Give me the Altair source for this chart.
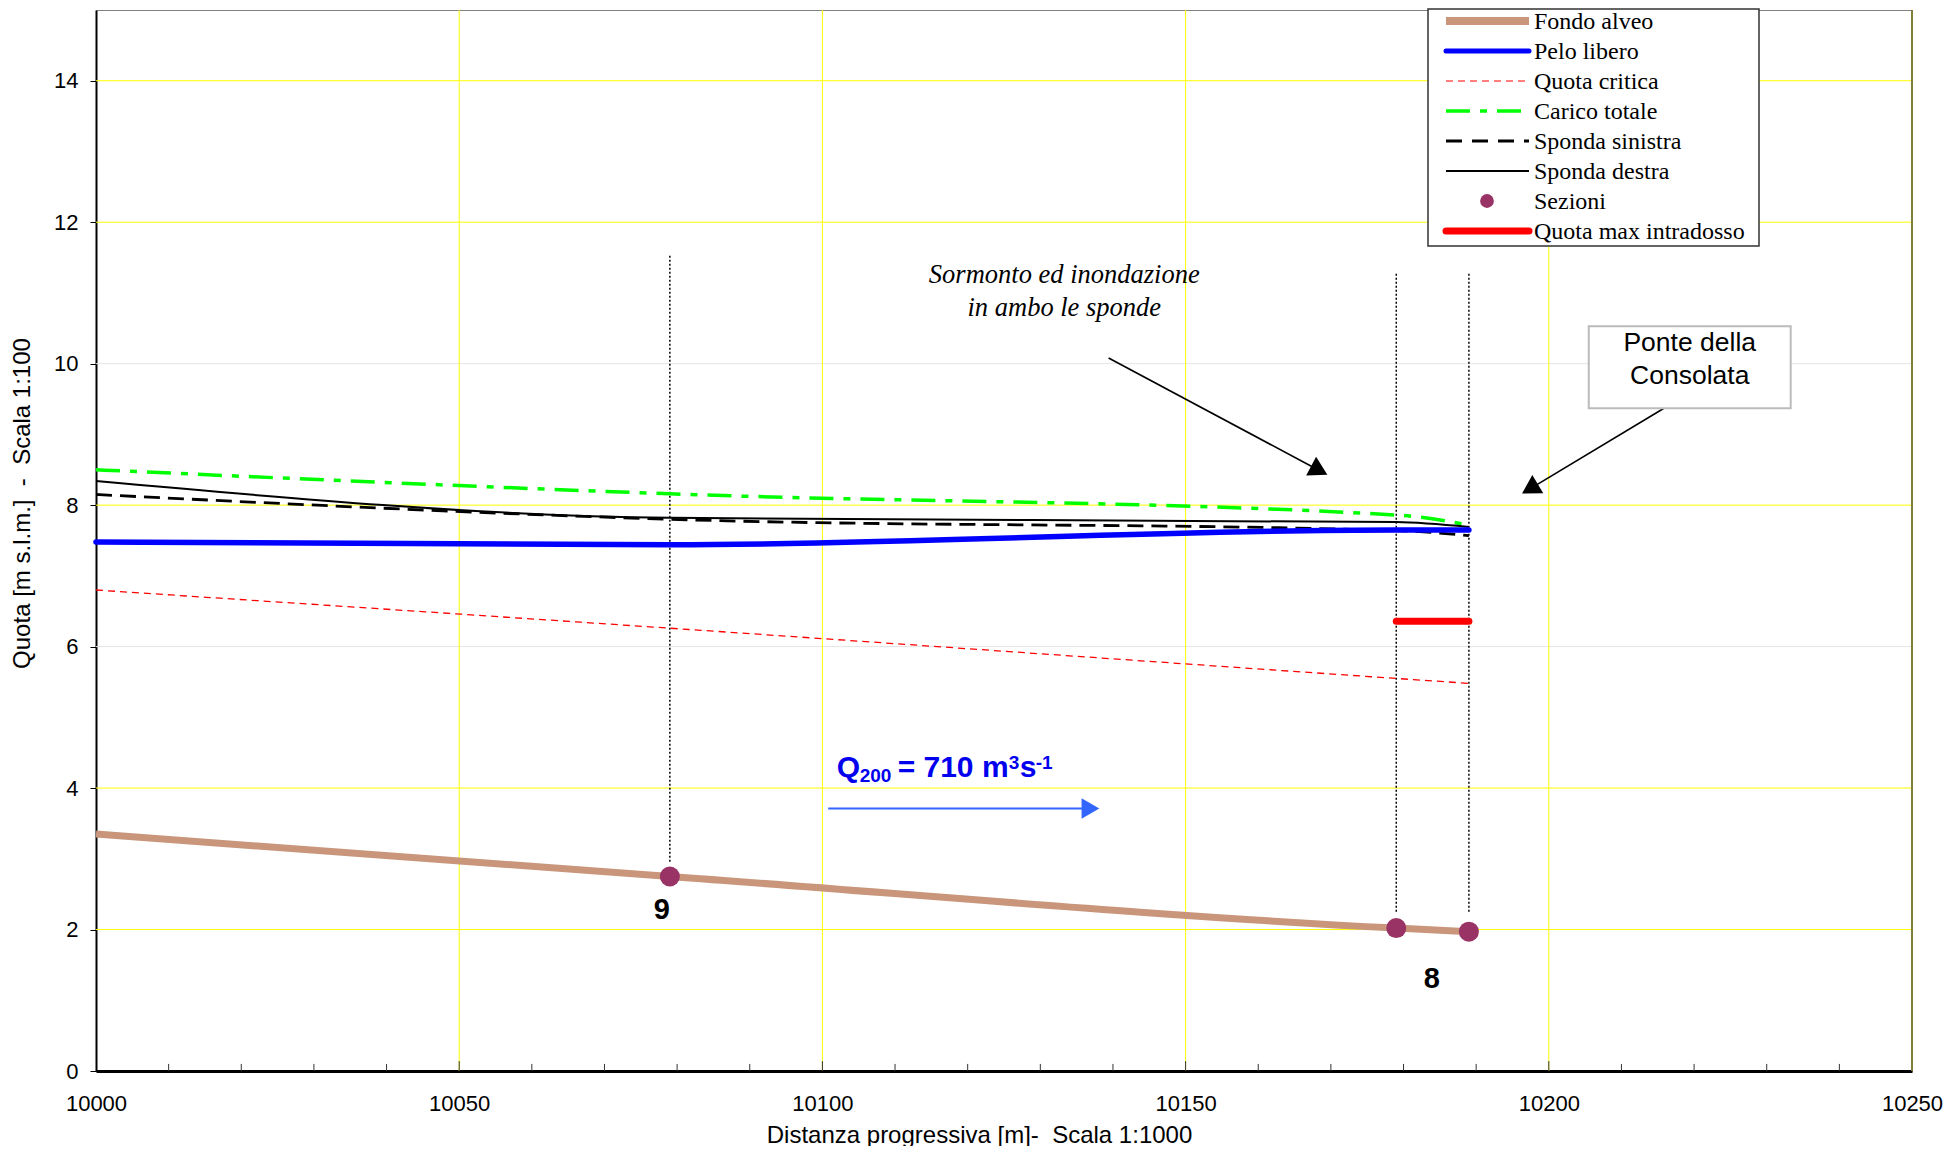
import altair as alt
import pandas as pd

# ---------------- data ----------------
x_sez = [10000, 10079, 10179, 10189]
fondo = [3.35, 2.75, 2.02, 1.97]
pelo = [7.48, 7.44, 7.65, 7.65]
critica = [6.80, 6.26, 5.55, 5.48]
carico = [8.50, 8.16, 7.86, 7.72]
sinistra = [8.15, 7.80, 7.64, 7.57]
destra = [8.34, 7.82, 7.76, 7.69]

sez_x = [10079, 10179, 10189]
sez_y = [2.75, 2.02, 1.97]
sez_top = [11.54, 11.30, 11.30]
sez_bottom = [2.96, 2.25, 2.25]

intradosso_x = [10179, 10189]
intradosso_y = [6.36, 6.36]

sez_labels = ["9", "8"]
sez_label_x = [10077.9, 10183.9]
sez_label_y = [2.28, 1.30]

grid_y_yellow = [2, 4, 8, 12, 14]
grid_y_gray = [6, 10]
grid_x_yellow = [10050, 10100, 10150, 10200]

legend_names = ["Fondo alveo", "Pelo libero", "Quota critica", "Carico totale",
                "Sponda sinistra", "Sponda destra", "Sezioni", "Quota max intradosso"]

W, H = 1816, 1061
XD = [10000, 10250]
YD = [0, 15]
xs = alt.Scale(domain=XD, nice=False, zero=False)
ys = alt.Scale(domain=YD, nice=False, zero=False)
SANS = "Liberation Sans"
SERIF = "Liberation Serif"
NB = "\u00a0"

AX = alt.Axis(
    values=list(range(10000, 10251, 50)), format="d", grid=False, ticks=False,
    labelFont=SANS, labelFontSize=22, labelColor="#000", labelPadding=22,
    labelFlush=False, labelBound=False, labelOverlap=False,
    domainColor="#000", domainWidth=3,
    title="Distanza progressiva [m]-" + NB + NB + "Scala 1:1000", titleFont=SANS, titleFontSize=24,
    titleFontWeight="normal", titleColor="#000", titleX=883, titleY=64,
    titleBaseline="middle", titleAnchor="middle", titleAlign="center")
AY = alt.Axis(
    values=list(range(0, 15, 2)), grid=False, tickSize=6, tickColor="#000", tickWidth=1,
    labelFont=SANS, labelFontSize=22, labelColor="#000", labelPadding=12,
    labelFlush=False, labelBound=False,
    domainColor="#000", domainWidth=2,
    title="Quota [m s.l.m.]" + NB + NB + "-" + NB + NB + "Scala 1:100", titleFont=SANS, titleFontSize=24,
    titleFontWeight="normal", titleColor="#000", titleX=-74, titleY=493,
    titleBaseline="middle", titleAlign="center", titleAngle=-90)


def X(f, **kw):
    return alt.X(f, type="quantitative", scale=xs, axis=AX, **kw)


def Y(f, **kw):
    return alt.Y(f, type="quantitative", scale=ys, axis=AY, **kw)


layers = []

# grid lines
layers.append(alt.Chart(pd.DataFrame({"y": grid_y_yellow})).mark_rule(color="#FFFF00", strokeWidth=1).encode(y=Y("y")))
layers.append(alt.Chart(pd.DataFrame({"y": grid_y_gray})).mark_rule(color="#E4E4E4", strokeWidth=1).encode(y=Y("y")))
layers.append(alt.Chart(pd.DataFrame({"x": grid_x_yellow})).mark_rule(color="#FFFF00", strokeWidth=1).encode(x=X("x")))

# right border
layers.append(alt.Chart(pd.DataFrame({"x": [XD[1]]})).mark_rule(color="#7F7F3A", strokeWidth=2).encode(x=X("x")))

# minor ticks on x axis (inside)
tick_x = list(range(10010, 10250, 10))
tick_len = [0.14 if t % 50 == 0 else 0.10 for t in tick_x]
layers.append(alt.Chart(pd.DataFrame({"x": tick_x, "y0": [0] * len(tick_x), "y1": tick_len}))
              .mark_rule(color="#333333", strokeWidth=1).encode(x=X("x"), y=Y("y0"), y2="y1"))

# vertical dotted section lines
layers.append(alt.Chart(pd.DataFrame({"x": sez_x, "y0": sez_bottom, "y1": sez_top}))
              .mark_rule(color="#000000", strokeWidth=1.5, strokeDash=[2, 2]).encode(x=X("x"), y=Y("y0"), y2="y1"))


def line_layer(vals, color, width, dash=None, cap="butt", interp="monotone"):
    df = pd.DataFrame({"x": x_sez, "y": vals})
    kw = dict(color=color, strokeWidth=width, strokeCap=cap, interpolate=interp)
    if dash:
        kw["strokeDash"] = dash
    return alt.Chart(df).mark_line(**kw).encode(x=X("x"), y=Y("y"))


layers.append(line_layer(critica, "#FF0000", 1.3, [7, 5]))
layers.append(line_layer(fondo, "#C9967C", 7))
layers.append(line_layer(carico, "#00FF00", 3.5, [24, 10, 7, 10]))
layers.append(line_layer(destra, "#000000", 2))
layers.append(line_layer(sinistra, "#000000", 2.8, [16, 8]))
layers.append(line_layer(pelo, "#0000FF", 5.5, cap="round"))

# sections markers
layers.append(alt.Chart(pd.DataFrame({"x": sez_x, "y": sez_y}))
              .mark_point(filled=True, color="#993366", opacity=1, size=400, shape="circle")
              .encode(x=X("x"), y=Y("y")))

# quota max intradosso
layers.append(alt.Chart(pd.DataFrame({"x": intradosso_x, "y": intradosso_y}))
              .mark_line(color="#FF0000", strokeWidth=7, strokeCap="round").encode(x=X("x"), y=Y("y")))

# section labels
layers.append(alt.Chart(pd.DataFrame({"x": sez_label_x, "y": sez_label_y, "t": sez_labels}))
              .mark_text(font=SANS, fontSize=29, fontWeight="bold", color="#000", baseline="middle")
              .encode(x=X("x"), y=Y("y"), text="t:N"))

# annotation: Sormonto
layers.append(alt.Chart(pd.DataFrame({"x": [10133.3, 10133.3], "y": [11.26, 10.78],
                                      "t": ["Sormonto ed inondazione", "in ambo le sponde"]}))
              .mark_text(font=SERIF, fontSize=26.5, fontStyle="italic", color="#000", baseline="middle")
              .encode(x=X("x"), y=Y("y"), text="t:N"))

# arrows (start, end)
arrows = pd.DataFrame({
    "x": [10139.4, 10217.0], "y": [10.08, 9.44],
    "x2": [10168.4, 10197.4], "y2": [8.49, 8.23],
    "ang": [118, 239],
})
layers.append(alt.Chart(arrows).mark_rule(color="#000", strokeWidth=1.6)
              .encode(x=X("x"), y=Y("y"), x2="x2", y2="y2"))
layers.append(alt.Chart(arrows).mark_point(shape="triangle-up", filled=True, color="#000", opacity=1, size=450)
              .encode(x=X("x2"), y=Y("y2"), angle=alt.Angle("ang:Q", scale=None)))

# Ponte della Consolata box
layers.append(alt.Chart(pd.DataFrame({"x": [10205.5], "x2": [10233.3], "y": [10.53], "y2": [9.37]}))
              .mark_rect(fill="#FFFFFF", stroke="#BBBBBB", strokeWidth=2)
              .encode(x=X("x"), x2="x2", y=Y("y"), y2="y2"))
layers.append(alt.Chart(pd.DataFrame({"x": [10219.4, 10219.4], "y": [10.29, 9.83],
                                      "t": ["Ponte della", "Consolata"]}))
              .mark_text(font=SANS, fontSize=26.5, color="#000", baseline="middle")
              .encode(x=X("x"), y=Y("y"), text="t:N"))

# Q200 arrow
layers.append(alt.Chart(pd.DataFrame({"x": [10100.8], "x2": [10136.9], "y": [3.71]}))
              .mark_rule(color="#3366FF", strokeWidth=2).encode(x=X("x"), x2="x2", y=Y("y")))
layers.append(alt.Chart(pd.DataFrame({"x": [10136.9], "y": [3.71]}))
              .mark_point(shape="triangle-right", filled=True, color="#3366FF", opacity=1, size=420)
              .encode(x=X("x"), y=Y("y")))

# Q200 text pieces
q_parts = ["Q", "200", "= 710 m", "3", "s", "-1"]
q_dx = [0, 23, 61, 172, 183, 199]
q_dy = [0, 5, 0, -8, 0, -8]
q_fs = [30, 19, 30, 19, 30, 19]
for t, dx, dy, fs in zip(q_parts, q_dx, q_dy, q_fs):
    layers.append(alt.Chart(pd.DataFrame({"x": [10101.96], "y": [4.161], "t": [t]}))
                  .mark_text(font=SANS, fontSize=fs, fontWeight="bold", color="#0000EE",
                             align="left", baseline="alphabetic", dx=dx, dy=dy)
                  .encode(x=X("x"), y=Y("y"), text="t:N"))

# ---------------- legend (manual) ----------------
one = pd.DataFrame({"a": [0]})
layers.append(alt.Chart(one).mark_rect(fill="#FFFFFF", stroke="#333333", strokeWidth=1.5)
              .encode(x=alt.value(1332), x2=alt.value(1663), y=alt.value(-1), y2=alt.value(236)))
rows = [11, 41, 71, 101, 131, 161, 191, 221]
styles = [
    dict(kind="line", color="#C9967C", strokeWidth=8, strokeCap="butt"),
    dict(kind="line", color="#0000FF", strokeWidth=5, strokeCap="round"),
    dict(kind="line", color="#FF0000", strokeWidth=1.2, strokeDash=[7, 5]),
    dict(kind="line", color="#00FF00", strokeWidth=3.5, strokeDash=[24, 10, 7, 10]),
    dict(kind="line", color="#000000", strokeWidth=2.8, strokeDash=[16, 10]),
    dict(kind="line", color="#000000", strokeWidth=2),
    dict(kind="point", color="#993366"),
    dict(kind="line", color="#FF0000", strokeWidth=7, strokeCap="round"),
]
for name, yy, st in zip(legend_names, rows, styles):
    st = dict(st)
    kind = st.pop("kind")
    if kind == "line":
        layers.append(alt.Chart(one).mark_rule(**st)
                      .encode(x=alt.value(1350), x2=alt.value(1433), y=alt.value(yy)))
    else:
        layers.append(alt.Chart(one).mark_point(filled=True, color=st["color"], opacity=1, size=190, shape="circle")
                      .encode(x=alt.value(1391), y=alt.value(yy)))
    layers.append(alt.Chart(one).mark_text(font=SERIF, fontSize=24, color="#000", align="left", baseline="middle")
                  .encode(x=alt.value(1438), y=alt.value(yy + 1), text=alt.value(name)))

chart = alt.layer(*layers).properties(
    width=W, height=H,
    autosize=alt.AutoSizeParams(type="none"),
    padding={"left": 88, "top": 2, "right": 40, "bottom": 75},
    background="#FFFFFF",
).configure_view(stroke="#808080", strokeWidth=1)

chart.save("out.html", embed_options={"renderer": "svg", "actions": False})
